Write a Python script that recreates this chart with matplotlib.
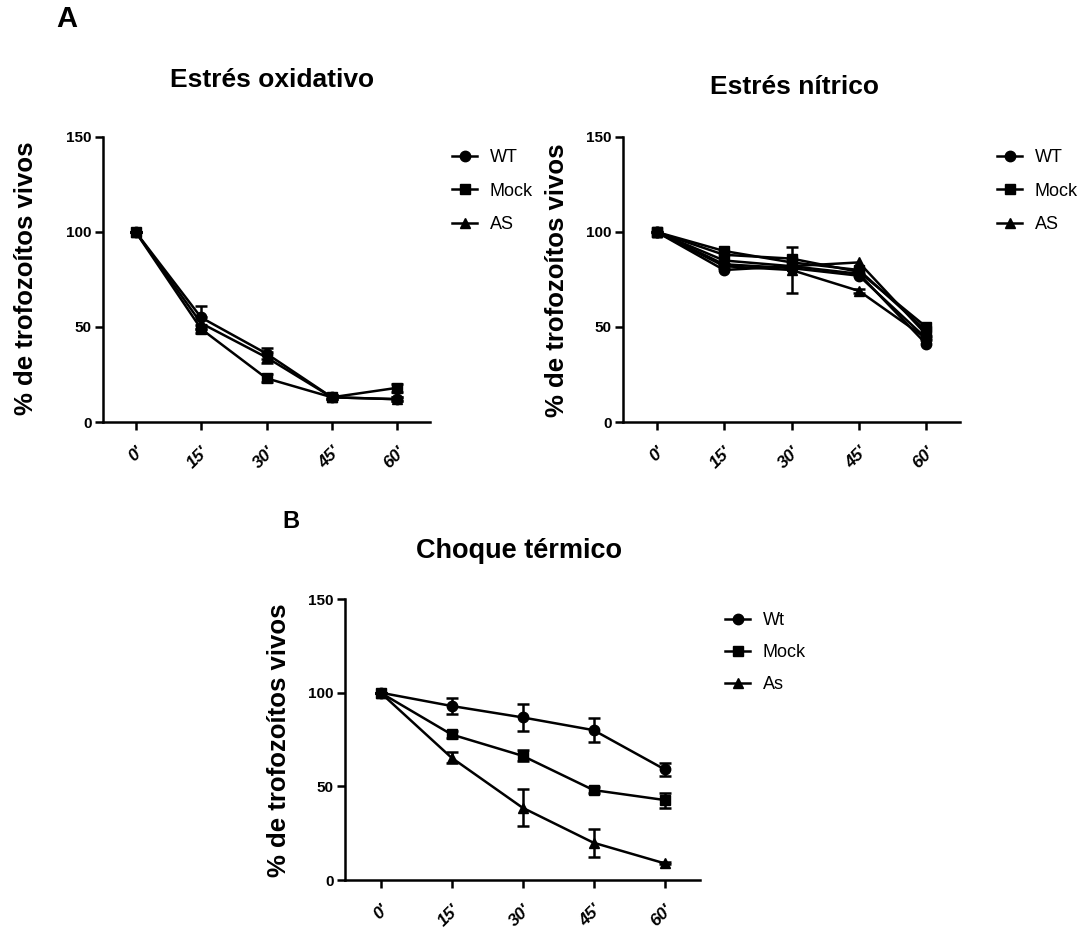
import matplotlib
matplotlib.use("Agg")
import matplotlib.pyplot as plt
from matplotlib.lines import Line2D

plt.rcParams['font.family'] = ['Liberation Sans', 'DejaVu Sans']

# ---------------- data ----------------
times = [0, 15, 30, 45, 60]
tick_labels = ["0'", "15'", "30'", "45'", "60'"]
series_names_A = ["WT", "Mock", "AS"]
series_names_B = ["Wt", "Mock", "As"]

# Estrés oxidativo
ox_wt = [100, 55, 36, 13, 12]
ox_mock = [100, 49, 23, 13, 18]
ox_as = [100, 52, 34, 13, 12]
ox_wt_err = [0, 6, 3, 1, 1]
ox_mock_err = [0, 2, 2, 1, 2]
ox_as_err = [0, 3, 3, 1, 1]

# Estrés nítrico (two replicate curves per strain)
ni_wt_1 = [100, 80, 82, 78, 41]
ni_wt_2 = [100, 83, 81, 77, 44]
ni_mock_1 = [100, 90, 84, 80, 48]
ni_mock_2 = [100, 88, 86, 79, 50]
ni_as_1 = [100, 85, 82, 84, 46]
ni_as_2 = [100, 82, 80, 69, 44]
ni_as_err = [0, 1, 12, 1, 1]

# Choque térmico
ht_wt = [100, 92.9, 86.8, 80.0, 59.1]
ht_mock = [100, 77.7, 66.3, 48.0, 42.7]
ht_as = [100, 65.3, 38.6, 19.9, 8.9]
ht_wt_err = [0, 4.5, 7.4, 6.4, 3.5]
ht_mock_err = [0, 2.0, 3.0, 1.5, 4.0]
ht_as_err = [0, 3.0, 10.0, 7.4, 0.5]

markers = ['o', 's', '^']

fig = plt.figure(figsize=(10.86, 9.3), dpi=100)

W, H = 1086, 930
def ax_rect(l, r, t, b):
    return [l / W, 1 - b / H, (r - l) / W, (b - t) / H]

ax1 = fig.add_axes(ax_rect(103, 430, 137, 422))
ax2 = fig.add_axes(ax_rect(623, 960, 137, 422))
ax3 = fig.add_axes(ax_rect(345, 700, 599, 880))

def style(ax):
    ax.set_xlim(-7.5, 67.5)
    ax.set_ylim(0, 150)
    ax.spines['top'].set_visible(False)
    ax.spines['right'].set_visible(False)
    ax.spines['left'].set_linewidth(1.8)
    ax.spines['bottom'].set_linewidth(1.8)
    ax.set_yticks([0, 50, 100, 150])
    ax.set_yticklabels(['0', '50', '100', '150'], fontsize=11, fontweight='bold')
    ax.set_xticks(times)
    ax.set_xticklabels(tick_labels, fontsize=12.5, fontweight='bold',
                       fontstyle='italic', rotation=45, ha='right',
                       rotation_mode='anchor')
    ax.tick_params(axis='both', width=1.8, length=6, pad=2)
    ax.tick_params(axis='x', pad=10)
    ax.set_ylabel('% de trofozoítos vivos', fontsize=18.5, fontweight='bold',
                  labelpad=6)

def plot_series(ax, y, err, m):
    ax.errorbar(times, y, yerr=err, color='black', marker=m, markersize=7.5,
                linewidth=1.8, elinewidth=1.8, capsize=4, capthick=1.8)

# Panel 1
for y, e, m in zip([ox_wt, ox_mock, ox_as], [ox_wt_err, ox_mock_err, ox_as_err], markers):
    plot_series(ax1, y, e, m)
style(ax1)

# Panel 2
plot_series(ax2, ni_wt_1, None, 'o')
plot_series(ax2, ni_mock_1, None, 's')
plot_series(ax2, ni_as_1, None, '^')
plot_series(ax2, ni_wt_2, None, 'o')
plot_series(ax2, ni_mock_2, None, 's')
plot_series(ax2, ni_as_2, ni_as_err, '^')
style(ax2)

# Panel 3
for y, e, m in zip([ht_wt, ht_mock, ht_as], [ht_wt_err, ht_mock_err, ht_as_err], markers):
    plot_series(ax3, y, e, m)
style(ax3)

# align y labels like the reference (coordinate = right edge of rotated label)
ax1.yaxis.set_label_coords(38 / W, 1 - 278 / H, transform=fig.transFigure)
ax2.yaxis.set_label_coords(569 / W, 1 - 280 / H, transform=fig.transFigure)
ax3.yaxis.set_label_coords(291 / W, 1 - 740 / H, transform=fig.transFigure)

def legend(ax, names, x, y, spacing):
    handles = [Line2D([0], [0], color='black', marker=m, markersize=7.5,
                      linewidth=1.8) for m in markers]
    ax.legend(handles, names, loc='upper left', bbox_to_anchor=(x / W, 1 - y / H),
              bbox_transform=fig.transFigure, frameon=False,
              handlelength=1.4, handletextpad=0.7, labelspacing=spacing,
              borderpad=0, borderaxespad=0,
              prop={'family': ['Liberation Sans', 'DejaVu Sans'], 'size': 13})

legend(ax1, series_names_A, 452, 149, 0.92)
legend(ax2, series_names_A, 997, 149, 0.92)
legend(ax3, series_names_B, 725, 612, 0.83)

fig.text(272 / W, 1 - 80 / H, 'Estrés oxidativo', fontsize=19, fontweight='bold',
         ha='center', va='center')
fig.text(795 / W, 1 - 87 / H, 'Estrés nítrico', fontsize=19, fontweight='bold',
         ha='center', va='center')
fig.text(519 / W, 1 - 551 / H, 'Choque térmico', fontsize=19.5, fontweight='bold',
         ha='center', va='center')

fig.text(67 / W, 1 - 19 / H, 'A', fontsize=21, fontweight='bold',
         ha='center', va='center')
fig.text(291 / W, 1 - 521 / H, 'B', fontsize=17, fontweight='bold',
         ha='center', va='center')

fig.savefig('out.png', dpi=100)
